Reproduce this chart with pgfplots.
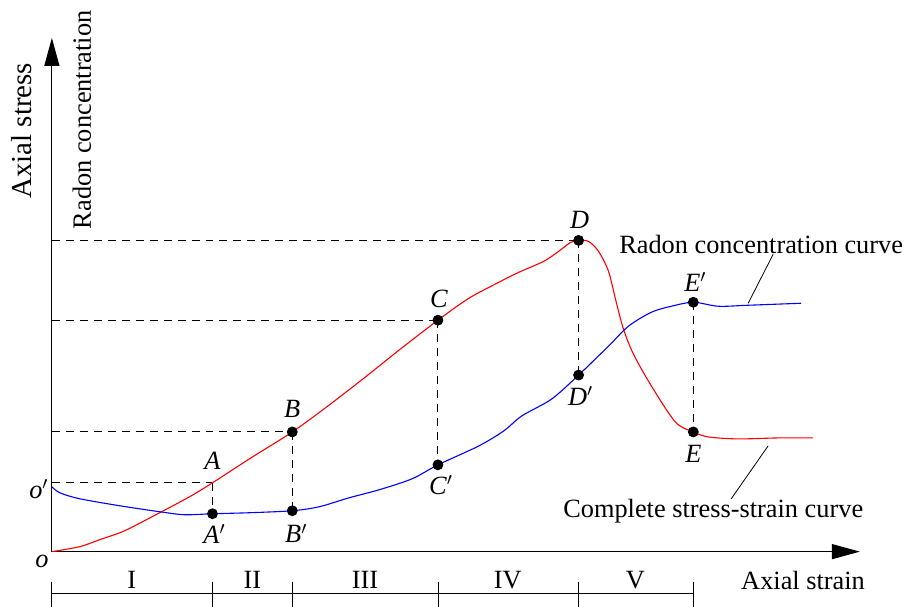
\documentclass[border=0pt]{standalone}
\usepackage{fontspec}
\setmainfont{Liberation Serif}
\usepackage{pgfplots}
\pgfplotsset{compat=1.18}
\usetikzlibrary{arrows.meta}
\tikzset{lab/.style={font=\fontsize{13.2}{15}\selectfont, inner sep=1pt}}
\begin{document}
\begin{tikzpicture}
\begin{axis}[
  scale only axis, width=405pt, height=257.5pt,
  xmin=0, xmax=810, ymin=0, ymax=515,
  axis lines=left, clip=false,
  xtick=\empty, ytick=\empty,
  axis line style={line width=0.6pt},
  x axis line style={-{Triangle[length=14pt,width=7.5pt]}},
  y axis line style={-{Triangle[length=14pt,width=7.5pt]}},
]
% bounding box
\path (axis cs:-52,-55) rectangle (axis cs:853,553);
% dashed guides
\addplot[black, dashed, dash pattern=on 4pt off 3pt, line width=0.5pt] coordinates {(0,69) (161,69)};
\addplot[black, dashed, dash pattern=on 4pt off 3pt, line width=0.5pt] coordinates {(0,120) (241,120)};
\addplot[black, dashed, dash pattern=on 4pt off 3pt, line width=0.5pt] coordinates {(0,232) (387,232)};
\addplot[black, dashed, dash pattern=on 4pt off 3pt, line width=0.5pt] coordinates {(0,312) (528,312)};
\addplot[black, dashed, dash pattern=on 4pt off 3pt, line width=0.5pt] coordinates {(161,69) (161,38)};
\addplot[black, dashed, dash pattern=on 4pt off 3pt, line width=0.5pt] coordinates {(241,120) (241,41)};
\addplot[black, dashed, dash pattern=on 4pt off 3pt, line width=0.5pt] coordinates {(387,232) (387,87)};
\addplot[black, dashed, dash pattern=on 4pt off 3pt, line width=0.5pt] coordinates {(528,312) (528,177)};
\addplot[black, dashed, dash pattern=on 4pt off 3pt, line width=0.5pt] coordinates {(643,250) (643,120)};
% stress-strain curve
\addplot[red, line width=0.55pt, smooth, tension=0.5] coordinates {
(0,0) (28,5) (48,12) (73,21) (108,39) (138,55) (161,69) (198,93) (241,120)
(278,147) (318,178) (348,202) (387,232) (418,254) (448,270) (468,280) (493,291)
(508,301) (520,310) (528,312) (538,311) (548,301) (558,281) (565,253) (573,223)
(583,198) (601,166) (625,130) (643,120) (658,115) (688,113) (728,114) (763,114)};
% radon curve
\addplot[blue, line width=0.55pt, smooth, tension=0.5] coordinates {
(0,65) (8,59) (28,53) (68,46) (108,40) (133,37) (161,38) (198,39) (241,41)
(268,45) (298,54) (328,62) (361,73) (387,87) (428,106) (453,121) (471,136)
(501,153) (528,177) (558,206) (578,226) (601,240) (621,246) (643,250) (668,246)
(698,247) (751,249)};
% points
\addplot[only marks, mark=*, mark size=2.5pt, black] coordinates {
(161,38) (241,120) (241,41) (387,232) (387,87) (528,312) (528,177) (643,250) (643,120)};
% leaders
\addplot[black, line width=0.4pt] coordinates {(723,298) (698,249)};
\addplot[black, line width=0.4pt] coordinates {(718,106) (681,53)};
% stage bar
\addplot[black, line width=0.5pt] coordinates {(0,-42) (643,-42)};
\addplot[black, line width=0.4pt] coordinates {(0,-30) (0,-55)};
\addplot[black, line width=0.4pt] coordinates {(161,-30) (161,-55)};
\addplot[black, line width=0.4pt] coordinates {(241,-30) (241,-55)};
\addplot[black, line width=0.4pt] coordinates {(387,-30) (387,-55)};
\addplot[black, line width=0.4pt] coordinates {(528,-30) (528,-55)};
\addplot[black, line width=0.4pt] coordinates {(643,-30) (643,-55)};
% labels
\node[lab] at (axis cs:80,-28) {I};
\node[lab] at (axis cs:201,-28) {II};
\node[lab] at (axis cs:314,-28) {III};
\node[lab] at (axis cs:457,-28) {IV};
\node[lab] at (axis cs:585,-28) {V};
\node[lab] at (axis cs:753,-29) {Axial strain};
\node[lab, rotate=90, font=\fontsize{14.5}{16}\selectfont] at (axis cs:-30,422) {Axial stress};
\node[lab, rotate=90] at (axis cs:30,433) {Radon concentration};
\node[lab] at (axis cs:-10,-10) {\textit{o}};
\node[lab] at (axis cs:-13,63) {\textit{o}$'$};
\node[lab] at (axis cs:161,91) {\textit{A}};
\node[lab] at (axis cs:163,18) {\textit{A}$'$};
\node[lab] at (axis cs:241,143) {\textit{B}};
\node[lab] at (axis cs:245,18) {\textit{B}$'$};
\node[lab] at (axis cs:388,253) {\textit{C}};
\node[lab] at (axis cs:390,67) {\textit{C}$'$};
\node[lab] at (axis cs:529,333) {\textit{D}};
\node[lab] at (axis cs:530,156) {\textit{D}$'$};
\node[lab] at (axis cs:645,270) {\textit{E}$'$};
\node[lab] at (axis cs:643,98) {\textit{E}};
\node[lab] at (axis cs:711,308) {Radon concentration curve};
\node[lab] at (axis cs:663,41) {Complete stress-strain curve};
\end{axis}
\end{tikzpicture}
\end{document}
